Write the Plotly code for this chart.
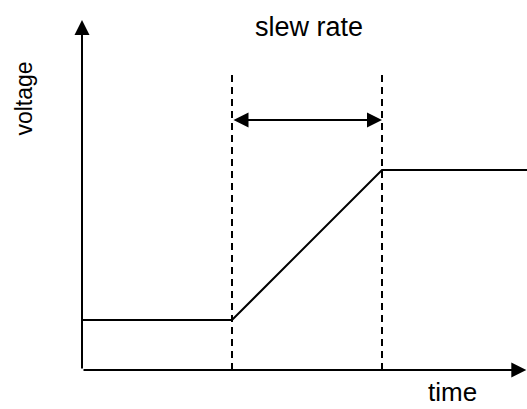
import plotly.graph_objects as go

# Data (abstract units: time, voltage)
time = [0.0, 1.0, 2.0, 2.967]
voltage = [1.0, 1.0, 4.0, 4.0]
ramp_times = [1.0, 2.0]          # slew region boundaries
marker_top = 6.0                  # top of dashed markers
arrow_level = 5.0                 # height of slew-rate arrow
x_axis_end = 2.962
y_axis_end = 7.0

labels = {"slew": "slew rate", "x": "time", "y": "voltage"}

FONT = "Liberation Sans, Arial, sans-serif"

fig = go.Figure()
fig.add_trace(go.Scatter(x=time, y=voltage, mode="lines",
                         line=dict(color="black", width=2),
                         hoverinfo="skip", showlegend=False, cliponaxis=False))

# dashed markers
for t in ramp_times:
    fig.add_shape(type="line", xref="x", yref="y", x0=t, x1=t, y0=0, y1=marker_top,
                  line=dict(color="black", width=2, dash="7px,5px"))

arrow = dict(text="", showarrow=True, arrowhead=2, arrowsize=1.5, arrowwidth=2,
             arrowcolor="black", standoff=0, xref="x", yref="y", axref="x", ayref="y")
ann = []
# axes with arrows
ann.append(dict(x=0, y=y_axis_end, ax=0, ay=0, **arrow))
ann.append(dict(x=x_axis_end, y=0, ax=0, ay=0, **arrow))
# double arrow
ann.append(dict(x=ramp_times[1], y=arrow_level, ax=ramp_times[0], ay=arrow_level,
                startarrowhead=2, startarrowsize=1.5, arrowside="end+start",
                startstandoff=0, **arrow))
# texts
ann.append(dict(x=1.51, y=6.87, xref="x", yref="y",
                text=labels["slew"], showarrow=False, xanchor="center", yanchor="middle",
                font=dict(family=FONT, size=27, color="black")))
ann.append(dict(x=2.473, y=-0.775, xref="x", yref="y",
                text=labels["x"], showarrow=False, xanchor="center", yanchor="bottom",
                font=dict(family=FONT, size=26, color="black")))
ann.append(dict(x=-0.393, y=5.43, xref="x", yref="y",
                text=labels["y"], showarrow=False, xanchor="center", yanchor="middle",
                textangle=-90,
                font=dict(family=FONT, size=23, color="black")))

# plot area covers the full canvas
fig.update_layout(
    width=527, height=409,
    margin=dict(l=0, r=0, t=0, b=0),
    paper_bgcolor="white", plot_bgcolor="white",
    xaxis=dict(range=[-82 / 150, 445 / 150], visible=False, fixedrange=True),
    yaxis=dict(range=[-39 / 50, 370 / 50], visible=False, fixedrange=True),
    annotations=ann,
    showlegend=False,
    hovermode=False,
)

fig.write_html("out.html",
               config={"displayModeBar": False, "staticPlot": True},
               post_script="document.body.style.margin='0';document.body.style.overflow='hidden';")
